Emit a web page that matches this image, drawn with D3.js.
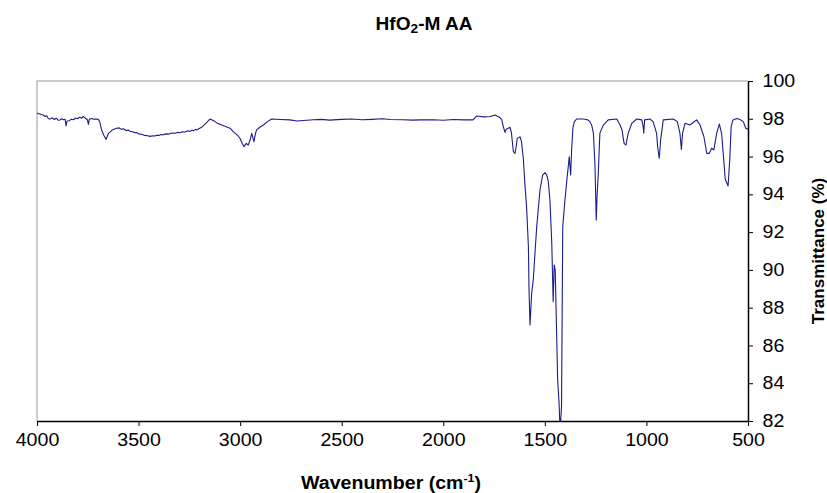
<!DOCTYPE html>
<html>
<head>
<meta charset="utf-8">
<script src="https://cdn.jsdelivr.net/npm/d3@7"></script>
<style>
	body { margin: 0; background: #fff; }
	text { font-family: "Liberation Sans", Arial, sans-serif; fill: #000; }
	.axis path, .axis line { stroke: #000; }
</style>
</head>
<body>
<svg id="ftir-svg" width="827" height="493"></svg>
<script>
// wavenumber (cm-1)
var wavenumber = [4000, 3985, 3970, 3960, 3952, 3944, 3936, 3925, 3915, 3905,
	3895, 3887, 3878, 3870, 3862, 3857, 3852, 3842, 3830, 3820,
	3810, 3800, 3790, 3780, 3772, 3765, 3758, 3752, 3747, 3742,
	3730, 3720, 3710, 3698, 3690, 3682, 3670, 3660, 3655, 3648,
	3630, 3608, 3595, 3585, 3575, 3562, 3550, 3542, 3530, 3520,
	3510, 3500, 3485, 3470, 3455, 3444, 3430, 3420, 3410, 3400,
	3390, 3378, 3365, 3350, 3335, 3320, 3305, 3296, 3285, 3270,
	3258, 3247, 3238, 3230, 3220, 3214, 3190, 3165, 3148, 3130,
	3115, 3099, 3075, 3050, 3034, 3015, 3001, 2990, 2981, 2975,
	2970, 2960, 2950, 2943, 2932, 2925, 2919, 2900, 2886, 2865,
	2845, 2800, 2755, 2720, 2672, 2640, 2600, 2560, 2500, 2450,
	2400, 2350, 2300, 2262, 2200, 2150, 2115, 2050, 2000, 1950,
	1900, 1854, 1835, 1800, 1770, 1745, 1737, 1725, 1712, 1705, 1696, 1690,
	1680, 1672, 1665, 1655, 1647, 1640, 1636, 1628, 1622, 1615, 1606, 1598, 1590, 1581, 1578, 1573, 1565, 1557, 1548, 1540,
	1530, 1524, 1511, 1499, 1490, 1483, 1475, 1466, 1462, 1459, 1454, 1449, 1444, 1437, 1430, 1425, 1418, 1416, 1412, 1401,
	1390, 1385, 1380, 1373, 1368, 1362, 1355, 1343, 1311, 1290, 1278, 1268, 1261, 1253, 1249, 1247, 1243, 1237, 1232, 1229,
	1212, 1188, 1146, 1130, 1120, 1110, 1101, 1090, 1072, 1048, 1023, 1016, 1013, 1009, 983, 967, 950, 945, 937, 930,
	917, 868, 848, 835, 828, 822, 810, 786, 770, 753, 736, 717, 703, 690, 679, 668, 654, 641, 630, 622,
	612, 598, 590, 583, 574, 555, 540, 523, 511, 500];

// transmittance (%)
var transmittance = [98.29, 98.25, 98.2, 98.12, 98.16, 98.0, 97.99, 98.05, 97.96, 98.03,
	97.92, 97.94, 98.0, 97.95, 97.98, 97.62, 97.88, 97.9, 97.98, 97.95,
	98.04, 98.0, 98.08, 98.03, 98.13, 98.05, 98.0, 97.95, 97.7, 97.99,
	98.01, 97.97, 97.99, 97.97, 97.8, 97.41, 97.1, 96.91, 97.05, 97.23,
	97.4, 97.5, 97.52, 97.44, 97.47, 97.38, 97.4, 97.33, 97.32, 97.26,
	97.27, 97.2, 97.18, 97.12, 97.1, 97.07, 97.1, 97.09, 97.13, 97.12,
	97.17, 97.15, 97.2, 97.19, 97.25, 97.23, 97.29, 97.26, 97.31, 97.3,
	97.37, 97.33, 97.4, 97.36, 97.44, 97.41, 97.55, 97.8, 97.99, 97.9,
	97.78, 97.71, 97.6, 97.5, 97.32, 97.15, 96.97, 96.7, 96.52, 96.62,
	96.7, 96.61, 96.9, 97.23, 96.79, 97.2, 97.41, 97.58, 97.67, 97.85,
	97.99, 97.96, 97.94, 97.88, 97.92, 97.95, 97.97, 97.93, 97.97, 97.99,
	97.95, 97.97, 98.0, 97.96, 97.95, 97.93, 97.94, 97.95, 97.92, 97.96,
	97.94, 97.94, 98.15, 98.1, 98.12, 98.2, 98.15, 98.1, 97.95, 97.6, 97.28, 97.45,
	97.5, 97.55, 97.3, 96.26, 96.17, 96.6, 96.97, 97.0, 97.05, 96.79, 95.91, 94.5, 93.35, 91.23, 88.94, 87.08, 88.76, 89.47, 91.0, 92.29,
	93.5, 94.23, 95.02, 95.15, 95.0, 94.67, 93.7, 91.41, 89.64, 88.32, 90.26, 89.99, 87.52, 84.17, 82.95, 81.5, 82.76, 85.76, 92.29, 93.7,
	94.94, 95.46, 95.99, 95.02, 96.4, 97.5, 97.85, 97.99, 97.99, 97.95, 97.85, 97.6, 97.23, 95.46, 93.5, 92.64, 93.9, 95.11, 96.5, 97.24,
	97.67, 97.94, 97.99, 97.67, 97.4, 96.7, 96.61, 97.23, 97.76, 97.99, 97.94, 97.58, 97.23, 97.94, 97.99, 97.85, 97.23, 96.52, 95.91, 96.88,
	97.94, 97.99, 97.85, 97.23, 96.38, 97.24, 97.76, 97.67, 97.8, 97.94, 97.67, 97.05, 96.17, 96.17, 96.44, 96.35, 97.24, 97.72, 97.23, 96.17,
	94.8, 94.44, 95.82, 97.58, 97.94, 98.02, 97.96, 97.85, 97.5, 97.45];

var xTicks = [4000, 3500, 3000, 2500, 2000, 1500, 1000, 500];
var yTicks = [82, 84, 86, 88, 90, 92, 94, 96, 98, 100];

var margin = {top: 81, right: 79, bottom: 72, left: 37},
	width = 827 - margin.left - margin.right,
	height = 493 - margin.top - margin.bottom;

// the source picture is a little wider than tall, so text gets a slight x stretch
var stretch = 1.12;

var svg = d3.select('#ftir-svg');
var g = svg.append("g").attr("transform", "translate(" + margin.left + "," + margin.top + ")");

var xScale = d3.scaleLinear().domain([4000, 500]).range([0, width]);
var yScale = d3.scaleLinear().domain([82, 100]).range([height, 0]);

// grey frame on top and left
g.append("path")
	.attr("d", "M0," + height + "V0H" + width)
	.attr("fill", "none")
	.attr("stroke", "#bdbdbd")
	.attr("stroke-width", 1.5);

g.append("clipPath").attr("id", "plot-clip")
	.append("rect").attr("width", width).attr("height", height);

var data = wavenumber.map(function(w, i) { return [w, transmittance[i]]; });

g.append("path")
	.datum(data)
	.attr("clip-path", "url(#plot-clip)")
	.attr("fill", "none")
	.attr("stroke", "#1c1c8f")
	.attr("stroke-width", 1.1)
	.attr("stroke-linejoin", "round")
	.attr("d", d3.line()
		.x(function(d) { return xScale(d[0]); })
		.y(function(d) { return yScale(d[1]); }));

g.append("g")
	.attr("class", "x axis")
	.attr("transform", "translate(0," + height + ")")
	.call(d3.axisBottom(xScale).tickValues(xTicks).tickSize(5).tickSizeOuter(0).tickPadding(8).tickFormat(d3.format("d")))
	.call(function(a) {
		a.selectAll("text").style("font-size", "17.5px").attr("transform", "scale(" + stretch + ",1)");
	});

g.append("g")
	.attr("class", "y axis")
	.attr("transform", "translate(" + width + ",0)")
	.call(d3.axisRight(yScale).tickValues(yTicks).tickSize(5).tickSizeOuter(0).tickPadding(8))
	.call(function(a) {
		a.selectAll("text").style("font-size", "17.5px").attr("transform", "scale(" + stretch + ",1)");
	});

g.selectAll(".axis .domain").attr("stroke-width", 1.5);

svg.append("text")
	.attr("transform", "translate(424,30) scale(1.06,1)")
	.attr("text-anchor", "middle")
	.style("font-size", "18px")
	.style("font-weight", "bold")
	.html('HfO<tspan font-size="13px" dy="3">2</tspan><tspan dy="-3">-M AA</tspan>');

svg.append("text")
	.attr("transform", "translate(391,489) scale(" + stretch + ",1)")
	.attr("text-anchor", "middle")
	.style("font-size", "17.5px")
	.style("font-weight", "bold")
	.html('Wavenumber (cm<tspan font-size="11px" dy="-7">-1</tspan><tspan dy="7">)</tspan>');

svg.append("text")
	.attr("transform", "translate(824,251) rotate(-90)")
	.attr("text-anchor", "middle")
	.style("font-size", "17px")
	.style("font-weight", "bold")
	.text("Transmittance (%)");
</script>
</body>
</html>
